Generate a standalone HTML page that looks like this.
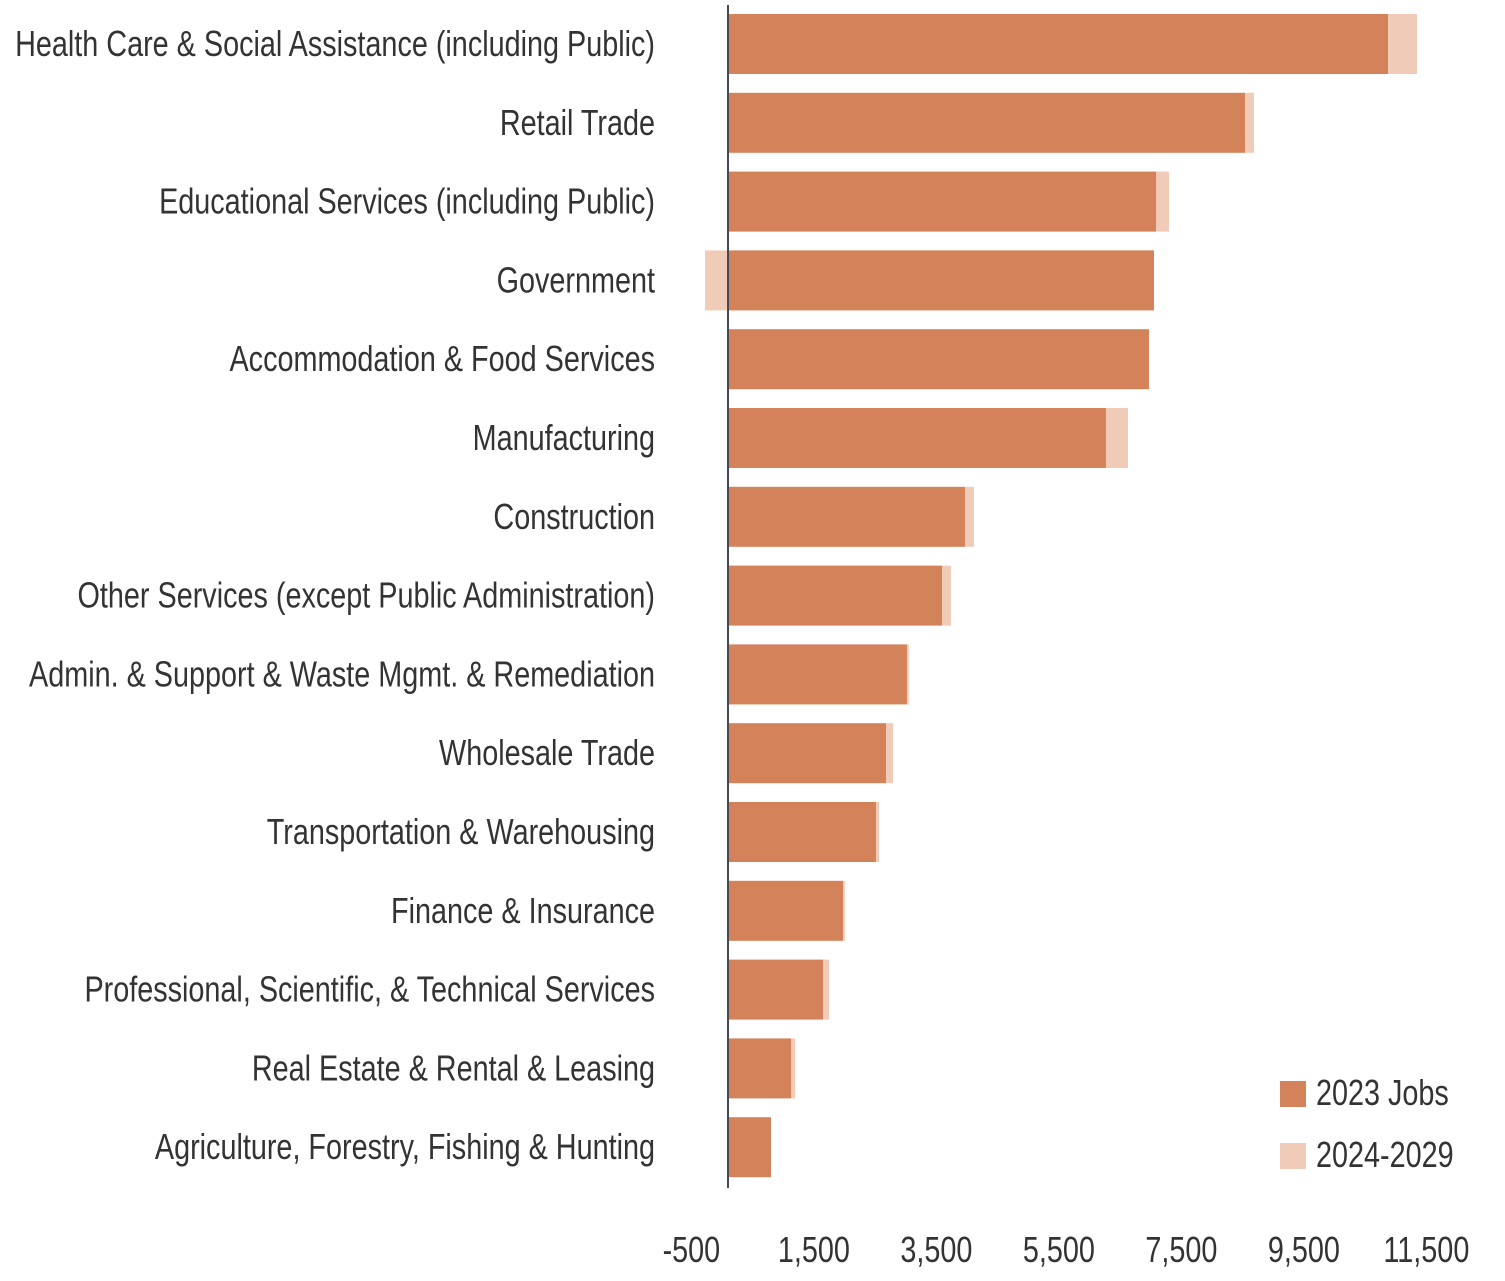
<!DOCTYPE html>
<html><head><meta charset="utf-8"><style>
html,body{margin:0;padding:0;background:#fff;}
svg{display:block;}
text{font-family:"Liberation Sans",sans-serif;fill:#333;}
</style></head><body>
<svg id="chart" width="1505" height="1281" xmlns="http://www.w3.org/2000/svg"></svg>
<script>
const categories=["Health Care & Social Assistance (including Public)","Retail Trade","Educational Services (including Public)","Government","Accommodation & Food Services","Manufacturing","Construction","Other Services (except Public Administration)","Admin. & Support & Waste Mgmt. & Remediation","Wholesale Trade","Transportation & Warehousing","Finance & Insurance","Professional, Scientific, & Technical Services","Real Estate & Rental & Leasing","Agriculture, Forestry, Fishing & Hunting"];
const jobs2023=[10776,8441,6988,6955,6873,6171,3869,3494,2922,2580,2416,1878,1551,1029,702];
const growth=[473,147,212,-375,0,359,147,147,30,114,50,30,98,65,0];
const ticks=[-500,1500,3500,5500,7500,9500,11500];
const tickLabels=["-500","1,500","3,500","5,500","7,500","9,500","11,500"];

const NS="http://www.w3.org/2000/svg";
const svg=document.getElementById('chart');
const x0=728, scale=0.06125;
const xs=v=>x0+v*scale;
const rowY=i=>44+i*78.8;
const barH=60;
const SX=0.8;
function el(tag,attrs,parent){const e=document.createElementNS(NS,tag);for(const k in attrs)e.setAttribute(k,attrs[k]);(parent||svg).appendChild(e);return e;}
function txt(x,y,anchor,s){
  const t=el('text',{x:0,y:0,'text-anchor':anchor,'font-size':36,transform:`translate(${x},${y}) scale(${SX},1)`});
  t.textContent=s;return t;
}

categories.forEach((c,i)=>{
  const y=rowY(i);
  const r=el('rect',{x:xs(0),y:y-barH/2,width:xs(jobs2023[i])-xs(0),height:barH,fill:'#D4825A'});
  
  
  const g=growth[i];
  if(g!==0){
    const gx=g>0?xs(jobs2023[i]):xs(g);
    const gw=g>0?xs(jobs2023[i]+g)-xs(jobs2023[i]):xs(0)-xs(g);
    const r2=el('rect',{x:gx,y:y-barH/2,width:gw,height:barH,fill:'#F0CBB8'});
    
    
  }
  const t=txt(655,y+12,'end',c);
  
  
});
const ax=el('line',{x1:x0,x2:x0,y1:5,y2:1188,stroke:'#444a55','stroke-width':2});


ticks.forEach((t,i)=>{
  const tx=txt(xs(t)-6,1262,'middle',tickLabels[i]);
  
  
});
const legend=[["2023 Jobs","#D4825A",1093],["2024-2029","#F0CBB8",1155]];
legend.forEach(l=>{
  const s=el('rect',{x:1280,y:l[2]-12,width:26,height:26,fill:l[1]});
  
  
  const t=txt(1316,l[2]+12,'start',l[0]);
  
  
});
</script>
</body></html>
